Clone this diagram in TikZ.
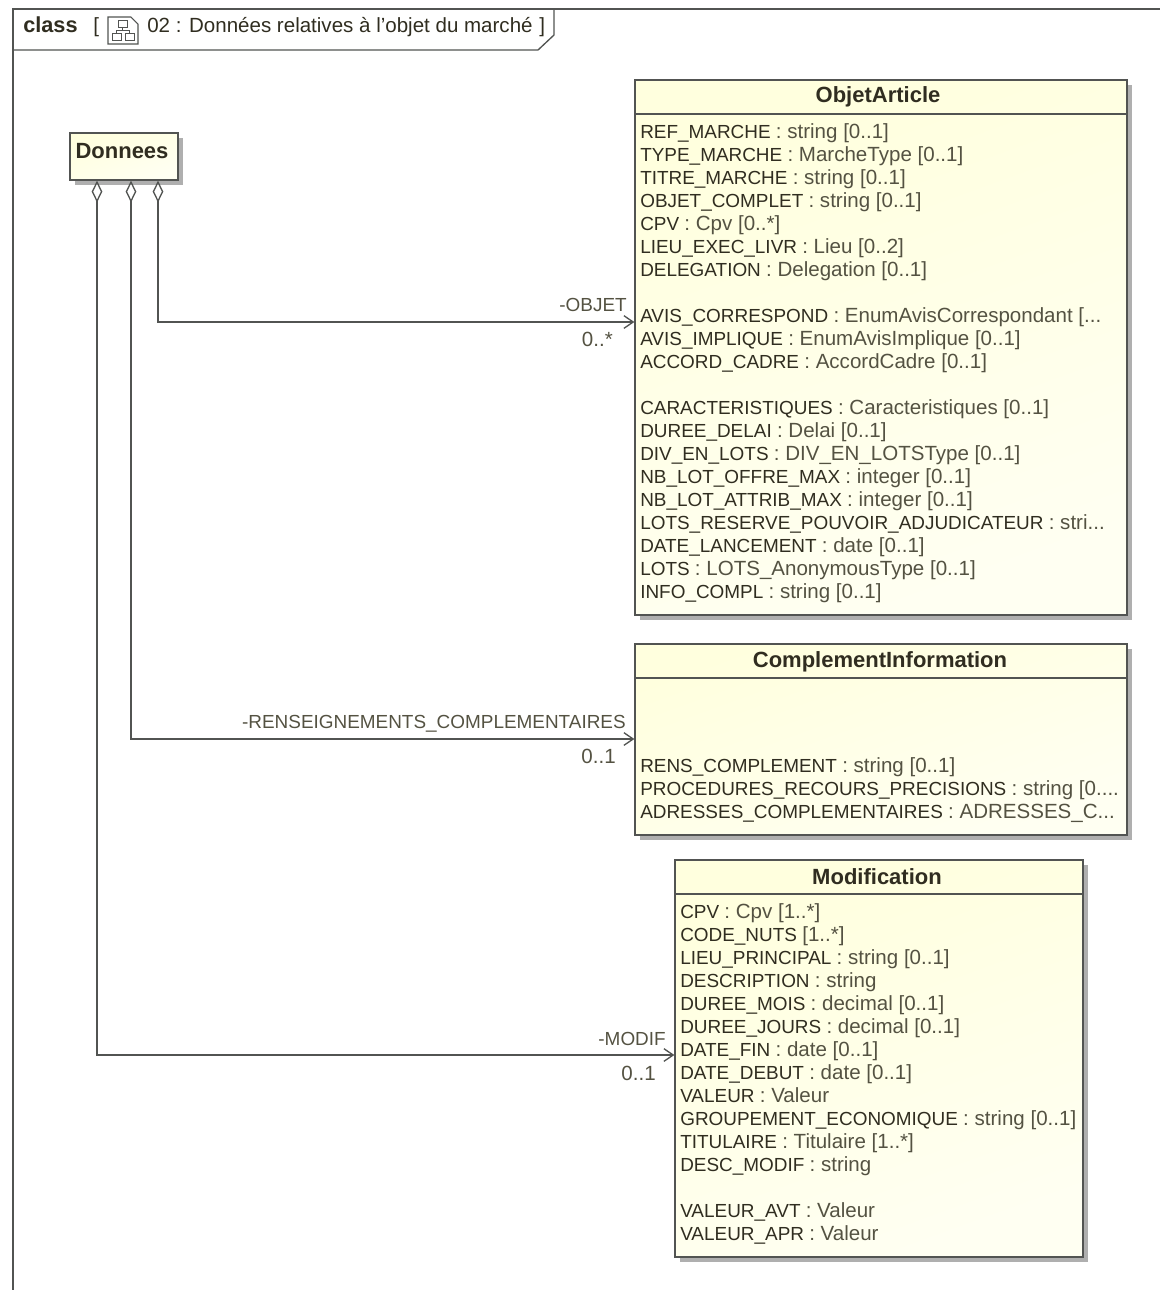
\documentclass[tikz,border=0pt]{standalone}
\usepackage{fontspec}
\setmainfont{Liberation Sans}
\usetikzlibrary{arrows.meta,shadows}
\definecolor{trait}{RGB}{82,84,82}
\definecolor{nomcol}{RGB}{48,45,32}
\definecolor{typecol}{RGB}{84,82,66}
\definecolor{ombre}{RGB}{175,175,175}
\newcommand{\suite}{...}
\newcommand{\taillenom}{\fontsize{14.2}{17}\selectfont}
\newcommand{\tailletype}{\fontsize{15.4}{17}\selectfont}
\tikzset{
        classe/.style={draw=trait,line width=0.9pt,inner sep=0pt,left color=yellow!13,right color=yellow!5,shading angle=20,
                drop shadow={shadow xshift=3.5pt,shadow yshift=-3.5pt,fill=ombre,opacity=1}},
        titre/.style={font=\fontsize{16.5}{19}\selectfont\bfseries,text=nomcol,inner sep=0pt},
        attr/.style={anchor=base west,font=\taillenom,text=nomcol,inner sep=0pt},
        role/.style={anchor=base east,font=\taillenom,text=typecol,inner sep=0pt},
        lien/.style={draw=trait,line width=1pt,{Diamond[open,length=16.5pt,width=8pt]}-{Straight Barb[length=7pt,width=9.5pt]}}
}
\begin{document}
\begin{tikzpicture}[x=0.75pt,y=-0.75pt]%Données relatives à l'objet du marché
        \useasboundingbox (0,0) rectangle (1160,1290);

        \draw[trait,line width=1pt] (1160,9) -- (13,9) -- (13,1290);
        \draw[trait,line width=1pt] (13,50) -- (538,50) -- (554,35) -- (554,9);
        \node[attr,font=\fontsize{16.3}{19}\selectfont\bfseries] (cadreType) at (23,32) {class};
        \node[attr,font=\tailletype] (cadreOuvre) at (93,32) {[};
        \node[attr,font=\tailletype] (cadreTitre) at (147,32) {02 : Données relatives à l'objet du marché};
        \node[attr,font=\tailletype] (cadreFerme) at (539,32) {]};

        \draw[trait,line width=0.8pt] (108,17) -- (131,17) -- (138,24) -- (138,44) -- (108,44) -- cycle;
        \draw[trait,line width=0.7pt] (118,20) rectangle (127,27);
        \draw[trait,line width=0.7pt] (112,33) rectangle (121,40);
        \draw[trait,line width=0.7pt] (125,33) rectangle (134,40);
        \draw[trait,line width=0.7pt] (122.5,27) -- (122.5,30) (116.5,33) -- (116.5,30) -- (129.5,30) -- (129.5,33);

        \node[classe,minimum width=81pt,minimum height=35.25pt] (donnees) at (124,156.5) {};
        \node[titre] (donneesNom) at (122,151) {Donnees};

        \node[classe,minimum width=369pt,minimum height=401.25pt] (objet) at (881,347.5) {};
        \node[classe,minimum width=369pt,minimum height=143.25pt] (complement) at (881,739.5) {};
        \node[classe,minimum width=306pt,minimum height=297.75pt] (modif) at (879,1058.5) {};

        \draw[trait,line width=0.9pt] (objet.west |- 0,114) -- (objet.east |- 0,114);
        \draw[trait,line width=0.9pt] (complement.west |- 0,678) -- (complement.east |- 0,678);
        \draw[trait,line width=0.9pt] (modif.west |- 0,894) -- (modif.east |- 0,894);

        \node[titre] (objetNom) at (878,97) {ObjetArticle};
        \node[titre] (complementNom) at (880,662) {ComplementInformation};
        \node[titre] (modifNom) at (877,877) {Modification};

        \foreach \y/\nom/\typ in {138/REF\_MARCHE/string [0..1],161/TYPE\_MARCHE/MarcheType [0..1],
                184/TITRE\_MARCHE/string [0..1],207/OBJET\_COMPLET/string [0..1],230/CPV/Cpv [0..*],
                253/LIEU\_EXEC\_LIVR/Lieu [0..2],276/DELEGATION/Delegation [0..1],
                322/AVIS\_CORRESPOND/EnumAvisCorrespondant [\suite,345/AVIS\_IMPLIQUE/EnumAvisImplique [0..1],
                368/ACCORD\_CADRE/AccordCadre [0..1],414/CARACTERISTIQUES/Caracteristiques [0..1],
                437/DUREE\_DELAI/Delai [0..1],460/DIV\_EN\_LOTS/DIV\_EN\_LOTSType [0..1],
                483/NB\_LOT\_OFFRE\_MAX/integer [0..1],506/NB\_LOT\_ATTRIB\_MAX/integer [0..1],
                529/LOTS\_RESERVE\_POUVOIR\_ADJUDICATEUR/stri\suite,552/DATE\_LANCEMENT/date [0..1],
                575/LOTS/LOTS\_AnonymousType [0..1],598/INFO\_COMPL/string [0..1],
                772/RENS\_COMPLEMENT/string [0..1],795/PROCEDURES\_RECOURS\_PRECISIONS/string [0.\suite,
                818/ADRESSES\_COMPLEMENTAIRES/ADRESSES\_C\suite}
                \node[attr] (attr\y) at (640,\y) {\nom\ \tailletype\textcolor{typecol}{: \typ}};

        \foreach \y/\nom/\typ in {918/CPV/Cpv [1..*],964/LIEU\_PRINCIPAL/string [0..1],987/DESCRIPTION/string,
                1010/DUREE\_MOIS/decimal [0..1],1033/DUREE\_JOURS/decimal [0..1],1056/DATE\_FIN/date [0..1],
                1079/DATE\_DEBUT/date [0..1],1102/VALEUR/Valeur,1125/GROUPEMENT\_ECONOMIQUE/string [0..1],
                1148/TITULAIRE/Titulaire [1..*],1171/DESC\_MODIF/string,
                1217/VALEUR\_AVT/Valeur,1240/VALEUR\_APR/Valeur}
                \node[attr] (attr\y) at (680,\y) {\nom\ \tailletype\textcolor{typecol}{: \typ}};
        \node[attr] (attr941) at (680,941) {CODE\_NUTS \tailletype\textcolor{typecol}{[1..*]}};

        \draw[lien] (donnees.south -| 158,0) |- (objet.west |- 0,322);
        \draw[lien] (donnees.south -| 131,0) |- (complement.west |- 0,739);
        \draw[lien] (donnees.south -| 97,0) |- (modif.west |- 0,1055);

        \node[role] (roleObjet) at (627,311) {-OBJET};
        \node[role,font=\tailletype] (multObjet) at (613,346) {0..*};
        \node[role] (roleComplement) at (626,728) {-RENSEIGNEMENTS\_COMPLEMENTAIRES};
        \node[role,font=\tailletype] (multComplement) at (616,763) {0..1};
        \node[role] (roleModif) at (666,1045) {-MODIF};
        \node[role,font=\tailletype] (multModif) at (656,1080) {0..1};
\end{tikzpicture}
\end{document}
